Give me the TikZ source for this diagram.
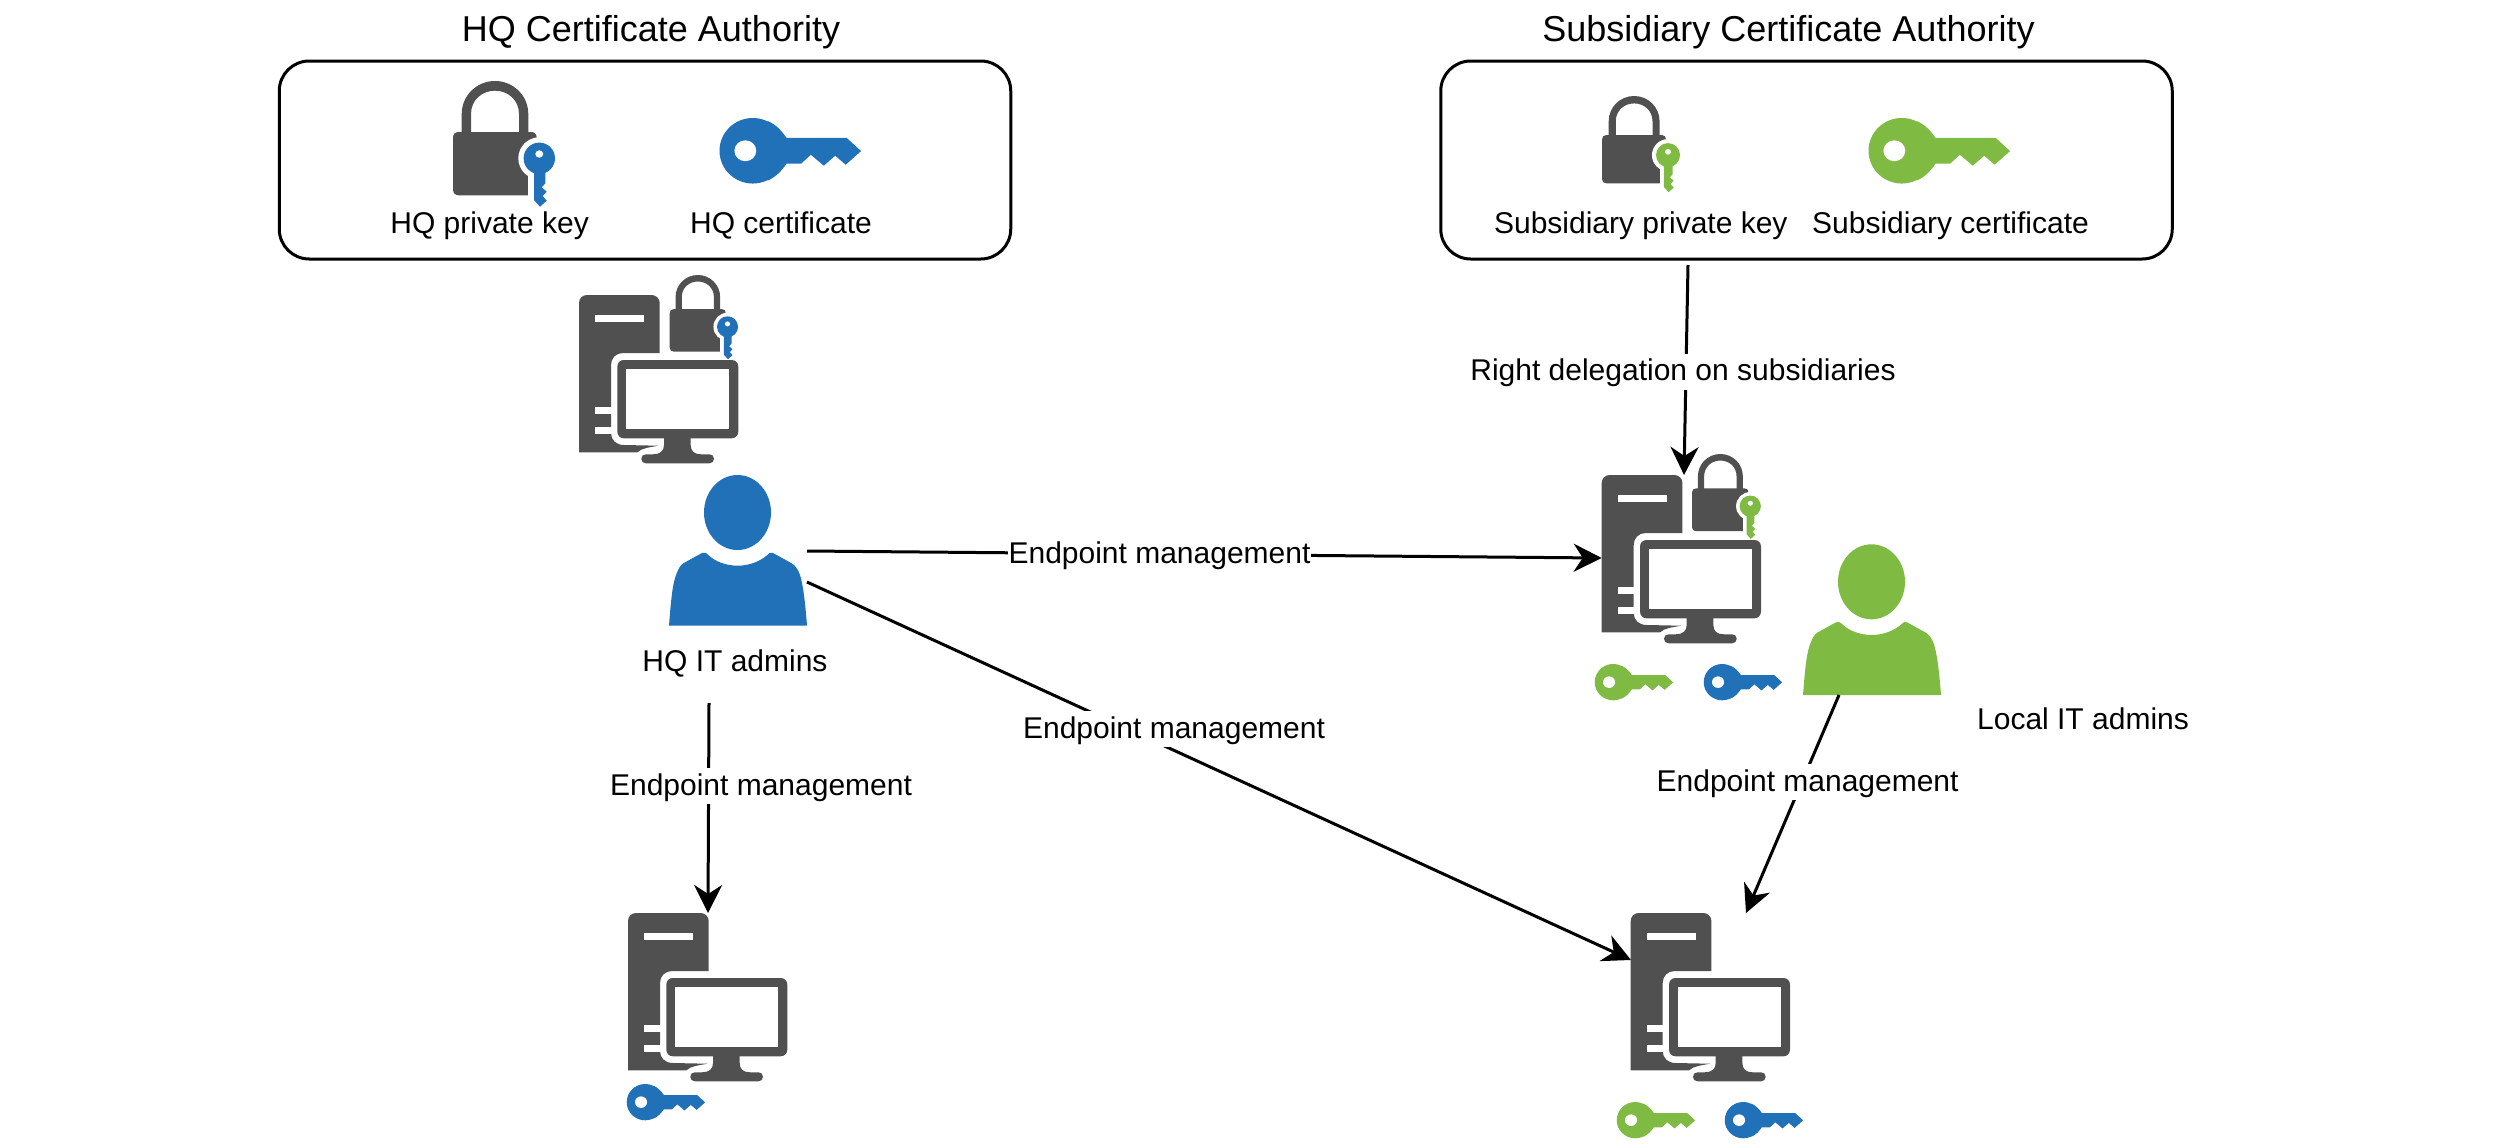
\documentclass[tikz,border=0pt]{standalone}
\usepackage{fontspec}
\setmainfont{Liberation Sans}
\usetikzlibrary{arrows.meta}
\definecolor{iconblue}{HTML}{2071B8}
\definecolor{icongreen}{HTML}{7FBA42}
\definecolor{icongray}{HTML}{505050}
\tikzset{
  cabox/.style={draw=black,line width=3pt,rounded corners=30pt,fill=white,minimum width=731.5pt,minimum height=198pt,inner sep=0pt},
  titletext/.style={anchor=base,inner sep=0pt,font=\fontsize{36}{40}\selectfont},
  labeltext/.style={anchor=base,inner sep=0pt,font=\fontsize{30}{36}\selectfont},
  edgetext/.style={anchor=base,inner xsep=1pt,inner ysep=0pt,fill=white,text height=27pt,text depth=9pt,font=\fontsize{30}{36}\selectfont},
  linkline/.style={draw=black,line width=3pt,-{Stealth[length=28pt,width=28pt,inset=9pt]}},
}
% #1 x, #2 y, #3 scale, #4 colour
\newcommand{\hkey}[4]{%
  \begin{scope}[shift={(#1,#2)},scale=#3]
    \fill[#4] (33,33) ellipse [x radius=33.5,y radius=33];
    \fill[#4] (48,3) .. controls (57,7) and (62,13) .. (67,20) -- (127.5,20) -- (142,33.3) -- (126.6,47)
      -- (116,38) -- (104.5,48) -- (91.5,37) -- (81.6,46) -- (67,46) .. controls (62,53) and (57,59) .. (48,63) -- cycle;
    \fill[white] (25.5,33) ellipse [x radius=11,y radius=10.5];
  \end{scope}}
\newcommand{\lockicon}[4]{%
  \begin{scope}[shift={(#1,#2)},scale=#3]
    \fill[icongray] (8.7,52) -- (8.7,33) .. controls (8.7,14.7) and (23.6,0) .. (42,0)
      .. controls (60.4,0) and (75.3,14.7) .. (75.3,33) -- (75.3,52) -- (66,52) -- (66,33)
      .. controls (66,19) and (55,9.7) .. (42,9.7) .. controls (29,9.7) and (18,19) .. (18,33) -- (18,52) -- cycle;
    \fill[icongray] (0,57) .. controls (0,53) and (2,51) .. (6,51) -- (78,51) .. controls (81.5,51) and (83.7,53) .. (83.7,57)
      -- (83.7,114.3) -- (6,114.3) .. controls (2,114.3) and (0,112) .. (0,108.3) -- cycle;
    \fill[white] (86.3,77.3) circle [radius=21];
    \fill[white] (75.3,77) rectangle (84.5,115.5);
    \fill[#4] (86.3,77.3) ellipse [x radius=15.7,y radius=15.7];
    \fill[#4] (81,85) -- (92.3,85) -- (92.3,102.3) -- (88.7,106.3) -- (93.7,110.7) -- (89.7,115) -- (93.7,119.7)
      -- (87,125.7) -- (81,119) -- cycle;
    \fill[white] (86.3,73) ellipse [x radius=4,y radius=3.7];
  \end{scope}}
\newcommand{\servericon}[2]{%
  \begin{scope}[shift={(#1,#2)}]
    \fill[icongray] (0,8) .. controls (0,3.5) and (3.5,0) .. (8,0) -- (72.7,0) .. controls (77,0) and (80.7,3.5) .. (80.7,8)
      -- (80.7,58) -- (44,58) .. controls (37,58) and (32,63) .. (32,70) -- (32,138) .. controls (32,145) and (37,150) .. (45,150)
      -- (79.3,150.7) .. controls (70,152.5) and (63,153) .. (58.3,157.3) -- (0,157.3) -- cycle;
    \fill[white] (16,20) rectangle (65,27);
    \fill[white] (16,112) rectangle (32.5,119);
    \fill[white] (16,132) rectangle (32.5,139);
    \fill[icongray] (38.3,72) .. controls (38.3,67.5) and (41,65) .. (45,65) -- (152.5,65) .. controls (156.5,65) and (159.3,67.5) .. (159.3,72)
      -- (159.3,136.3) .. controls (159.3,140.5) and (156.5,143.3) .. (152.5,143.3) -- (45,143.3) .. controls (41,143.3) and (38.3,140.5) .. (38.3,136.3) -- cycle;
    \fill[white] (47,74) rectangle (150.3,134.3);
    \fill[icongray] (85,143) -- (85,150) .. controls (85,156) and (81,159.3) .. (74,159.3) -- (67,159.3)
      .. controls (64,159.3) and (62.3,161) .. (62.3,163.8) .. controls (62.3,166.5) and (64,168.3) .. (67,168.3)
      -- (130.5,168.3) .. controls (133,168.3) and (135,166.5) .. (135,163.8) .. controls (135,161) and (133,159.3) .. (130.5,159.3)
      -- (122,159.3) .. controls (115,159.3) and (111.7,156) .. (111.7,150) -- (111.7,143) -- cycle;
  \end{scope}}
\newcommand{\usericon}[3]{%
  \begin{scope}[shift={(#1,#2)}]
    \fill[#3] (68.5,37.5) ellipse [x radius=33.5,y radius=37.5];
    \fill[#3] (0,150.7) .. controls (2,125) and (3.5,108) .. (7.7,98.3) .. controls (9.5,94) and (11,90.5) .. (14.3,88.3)
      -- (33,78) .. controls (35,77.2) and (37,77.5) .. (39.3,80) .. controls (46,86.5) and (57,90.7) .. (68.7,90.7)
      .. controls (80,90.7) and (91,86.5) .. (98.3,80) .. controls (100,77.5) and (102,77.2) .. (104,78)
      -- (122.7,88.3) .. controls (126,90.5) and (129,94) .. (131,100) .. controls (134,110) and (136,125) .. (138,150.7) -- cycle;
  \end{scope}}
\begin{document}
\begin{tikzpicture}[x=1pt,y=-1pt]
  \useasboundingbox (0,0) rectangle (2516,1143);
  \fill[white] (0,0) rectangle (2516,1143);

  % certificate authority boxes
  \node (hqbox) [cabox] at (645,160) {};
  \node (subbox) [cabox] at (1806.5,160) {};
  \node (hqtitle) [titletext] at (651,41.5) {HQ Certificate Authority};
  \node (subtitle) [titletext] at (1788.5,41.5) {Subsidiary Certificate Authority};

  \lockicon{453}{81}{1}{iconblue}
  \hkey{720}{118}{0.993}{iconblue}
  \node (hqpriv) [labeltext] at (489.6,233) {HQ private key};
  \node (hqcert) [labeltext] at (781,233) {HQ certificate};

  \lockicon{1602}{96}{0.765}{icongreen}
  \hkey{1869}{118}{0.993}{icongreen}
  \node (subpriv) [labeltext] at (1640.8,233) {Subsidiary private key};
  \node (subcert) [labeltext] at (1950.5,233) {Subsidiary certificate};

  % HQ server and admins
  \servericon{579}{295}
  \lockicon{669.7}{275}{0.67}{iconblue}
  \usericon{669}{475}{iconblue}
  \node (hqadmins) [labeltext] at (735,671) {HQ IT admins};

  % subsidiary server
  \servericon{1601.7}{475}
  \lockicon{1692}{454}{0.675}{icongreen}
  \hkey{1595}{664}{0.55}{icongreen}
  \hkey{1704}{664}{0.55}{iconblue}

  % local admins
  \usericon{1803}{544.3}{icongreen}
  \node (localadmins) [labeltext] at (2083,729) {Local IT admins};

  % endpoints
  \servericon{628}{913}
  \hkey{627}{1084}{0.55}{iconblue}
  \servericon{1630.7}{913}
  \hkey{1617}{1102}{0.55}{icongreen}
  \hkey{1725}{1102}{0.55}{iconblue}

  % connector ends
  \coordinate (hqoutA) at (807,551);
  \coordinate (subsrvL) at (1601.7,558);
  \coordinate (hqoutB) at (807,582);
  \coordinate (endsubL) at (1631,960);
  \coordinate (hqoutC) at (709,703);
  \coordinate (endhqT) at (708,913);
  \coordinate (localout) at (1839,695);
  \coordinate (endsubT) at (1746,913);
  \coordinate (subout) at (1688,265);
  \coordinate (subsrvT) at (1684,475);

  \draw[linkline] (hqoutA) -- (subsrvL);
  \draw[linkline] (hqoutB) -- (endsubL);
  \draw[linkline] (hqoutC) -- (endhqT);
  \draw[linkline] (localout) -- (endsubT);
  \draw[linkline] (subout) -- (subsrvT);

  \node (lblA) [edgetext] at (1159.5,563) {Endpoint management};
  \node (lblB) [edgetext] at (1174,738.3) {Endpoint management};
  \node (lblC) [edgetext] at (761,795) {Endpoint management};
  \node (lblD) [edgetext] at (1807.6,791) {Endpoint management};
  \node (lblE) [edgetext] at (1683,380.5) {Right delegation on subsidiaries};
\end{tikzpicture}
\end{document}
